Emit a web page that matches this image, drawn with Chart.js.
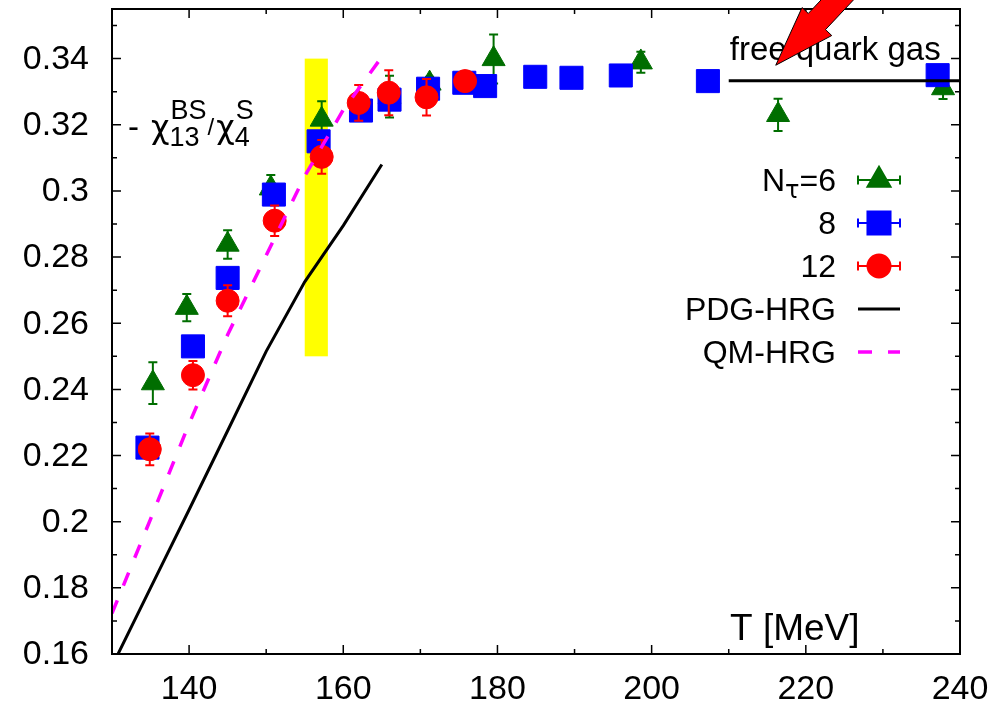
<!DOCTYPE html>
<html>
<head>
<meta charset="utf-8">
<script src="https://cdn.jsdelivr.net/npm/chart.js@4.4.0/dist/chart.umd.min.js"></script>
<style>
  body { margin: 0; background: #fff; }
  #wrap { width: 1007px; height: 710px; }
</style>
</head>
<body>
<div id="wrap"><canvas id="chart" width="1007" height="710"></canvas></div>
<script>
// lattice data, -chi13^BS / chi4^S vs T
// N_tau = 6
const T6   = [135.3, 139.7, 145.0, 150.6, 157.2, 166.0, 171.2, 179.5, 198.6, 216.4, 237.8];
const chi6 = [0.2419, 0.2647, 0.2838, 0.3008, 0.3216, 0.3285, 0.3325, 0.3399, 0.3389, 0.3230, 0.3311];
const err6 = [0.0063, 0.0041, 0.0043, 0.0040, 0.0055, 0.0063, 0.0020, 0.0074, 0.0032, 0.0049, 0.0033];
// N_tau = 8
const T8   = [134.6, 140.5, 145.0, 151.0, 156.8, 162.3, 166.0, 171.0, 175.7, 178.4, 184.9, 189.6, 196.0, 207.3, 237.1];
const chi8 = [0.2224, 0.2530, 0.2737, 0.2989, 0.3150, 0.3243, 0.3276, 0.3309, 0.3327, 0.3317, 0.3345, 0.3342, 0.3349, 0.3332, 0.3350];
const err8 = [0.0015, 0.0010, 0.0010, 0.0010, 0.0015, 0.0010, 0.0015, 0.0010, 0.0010, 0.0010, 0.0010, 0.0016, 0.0010, 0.0010, 0.0010];
// N_tau = 12
const T12   = [134.9, 140.5, 145.0, 151.1, 157.2, 162.0, 165.9, 170.8, 175.8];
const chi12 = [0.2219, 0.2443, 0.2668, 0.2910, 0.3103, 0.3266, 0.3297, 0.3283, 0.3332];
const err12 = [0.0048, 0.0043, 0.0047, 0.0046, 0.0051, 0.0054, 0.0068, 0.0055, 0.0030];
// HRG curves
const pdgT   = [130, 135, 140, 145, 150, 155, 160, 165];
const pdgChi = [0.1563, 0.1800, 0.2036, 0.2275, 0.2515, 0.2725, 0.2895, 0.3080];
const qmT    = [130, 135, 140, 145, 150, 155, 160, 165];
const qmChi  = [0.1723, 0.2008, 0.2296, 0.2565, 0.2805, 0.3045, 0.3245, 0.3405];
// free quark gas limit
const qgT   = [210, 240];
const qgChi = [1 / 3, 1 / 3];
// Tc band
const bandT   = [155, 158];
const bandChi = [0.25, 0.34];
// arrow (tip, tail)
const arrowT   = [216.1, 227.7];
const arrowChi = [0.338, 0.3667];

const xTicks = [140, 160, 180, 200, 220, 240];
const yTicks = [0.16, 0.18, 0.2, 0.22, 0.24, 0.26, 0.28, 0.3, 0.32, 0.34];
const xMinor = [150, 170, 190, 210, 230];
const yMinor = [0.17, 0.19, 0.21, 0.23, 0.25, 0.27, 0.29, 0.31, 0.33, 0.35];

const legendNames = ['N|τ|=6', '8', '12', 'PDG-HRG', 'QM-HRG'];

const GREEN = '#006e00', BLUE = '#0000ff', RED = '#ff0000', MAGENTA = '#ff00ff';
const FONT = '"Liberation Sans", Arial, Helvetica, sans-serif';
const GREEK = '"DejaVu Sans", "Noto Sans", sans-serif';

function pts(xs, ys) {
  return xs.map((x, i) => ({ x: x, y: ys[i] }));
}

function setFont(ctx, size, fam) {
  ctx.font = size + 'px ' + (fam || FONT);
}

// draws the error bars of a dataset, just before its markers
const errorBars = {
  id: 'errorBars',
  beforeDatasetDraw(chart, args) {
    const ds = chart.data.datasets[args.index];
    if (!ds.yErr) return;
    const ctx = chart.ctx, xs = chart.scales.x, ys = chart.scales.y;
    const ca = chart.chartArea;
    ctx.save();
    ctx.beginPath();
    ctx.rect(ca.left, ca.top, ca.right - ca.left, ca.bottom - ca.top);
    ctx.clip();
    ctx.strokeStyle = ds.borderColor;
    ctx.lineWidth = 2;
    ds.data.forEach((p, i) => {
      const px = xs.getPixelForValue(p.x);
      const y0 = ys.getPixelForValue(p.y - ds.yErr[i]);
      const y1 = ys.getPixelForValue(p.y + ds.yErr[i]);
      ctx.beginPath();
      ctx.moveTo(px, y0); ctx.lineTo(px, y1);
      ctx.moveTo(px - 4.5, y0); ctx.lineTo(px + 4.5, y0);
      ctx.moveTo(px - 4.5, y1); ctx.lineTo(px + 4.5, y1);
      ctx.stroke();
    });
    ctx.restore();
  }
};

const decor = {
  id: 'decor',
  beforeDatasetsDraw(chart) {
    const ctx = chart.ctx, xs = chart.scales.x, ys = chart.scales.y;
    // yellow Tc band
    const x0 = xs.getPixelForValue(bandT[0]), x1 = xs.getPixelForValue(bandT[1]);
    const y0 = ys.getPixelForValue(bandChi[0]), y1 = ys.getPixelForValue(bandChi[1]);
    ctx.save();
    ctx.fillStyle = '#ffff00';
    ctx.fillRect(x0, y1, x1 - x0, y0 - y1);
    ctx.restore();
  },
  afterDraw(chart) {
    const ctx = chart.ctx, xs = chart.scales.x, ys = chart.scales.y;
    const ca = chart.chartArea;
    ctx.save();

    // frame + inward ticks on all sides
    ctx.strokeStyle = '#000';
    ctx.lineWidth = 1.5;
    ctx.beginPath();
    xTicks.concat(xMinor).forEach(v => {
      const len = xTicks.includes(v) ? 9 : 5;
      const px = xs.getPixelForValue(v);
      ctx.moveTo(px, ca.bottom); ctx.lineTo(px, ca.bottom - len);
      ctx.moveTo(px, ca.top); ctx.lineTo(px, ca.top + len);
    });
    yTicks.concat(yMinor).forEach(v => {
      const len = yTicks.includes(v) ? 9 : 5;
      const py = ys.getPixelForValue(v);
      ctx.moveTo(ca.left, py); ctx.lineTo(ca.left + len, py);
      ctx.moveTo(ca.right, py); ctx.lineTo(ca.right - len, py);
    });
    ctx.stroke();
    ctx.lineWidth = 2;
    ctx.strokeRect(ca.left, ca.top, ca.right - ca.left, ca.bottom - ca.top);

    // y tick labels
    ctx.fillStyle = '#000';
    setFont(ctx, 34);
    ctx.textAlign = 'right';
    ctx.textBaseline = 'middle';
    yTicks.forEach(v => {
      ctx.fillText(String(+v.toFixed(2)), ca.left - 23, ys.getPixelForValue(v) + 1);
    });

    ctx.textAlign = 'left';
    ctx.textBaseline = 'alphabetic';

    // y label:  - chi_13^BS / chi_4^S
    let cx = ca.left + 16;
    const base = ca.top + 129;
    setFont(ctx, 33);
    ctx.fillText('-', cx, base);
    cx += 23;
    setFont(ctx, 32, GREEK);
    ctx.fillText('χ', cx, base);
    cx += ctx.measureText('χ').width;
    setFont(ctx, 27);
    ctx.fillText('13', cx, base + 8);
    ctx.fillText('BS', cx + 1, base - 19);
    cx += Math.max(ctx.measureText('13').width, ctx.measureText('BS').width + 1) + 1;
    setFont(ctx, 24);
    ctx.fillText('/', cx, base - 3);
    cx += ctx.measureText('/').width + 2;
    setFont(ctx, 32, GREEK);
    ctx.fillText('χ', cx, base);
    cx += ctx.measureText('χ').width;
    setFont(ctx, 27);
    ctx.fillText('4', cx, base + 8);
    ctx.fillText('S', cx + 1, base - 19);

    // free quark gas
    setFont(ctx, 33);
    ctx.fillText('free quark gas', xs.getPixelForValue(qgT[0]) + 1, ca.top + 51);

    // x label
    setFont(ctx, 37);
    ctx.fillText('T [MeV]', ca.left + 618, ca.bottom - 14);

    // legend
    const tx = ca.right - 124, s0 = ca.right - 102, s1 = ca.right - 60, sm = (s0 + s1) / 2;
    const styles = [
      { c: GREEN, m: 'triangle', r: 13.3 },
      { c: BLUE, m: 'rect', r: 16.3 },
      { c: RED, m: 'circle', r: 11.5 },
      { c: '#000', line: [] },
      { c: MAGENTA, line: [14, 16] }
    ];
    legendNames.forEach((name, i) => {
      const ry = ca.top + 171 + 43 * i;
      const parts = name.split('|');
      ctx.fillStyle = '#000';
      if (parts.length === 3) {
        setFont(ctx, 32);
        const w0 = ctx.measureText(parts[0]).width, w2 = ctx.measureText(parts[2]).width;
        setFont(ctx, 24, GREEK);
        const w1 = ctx.measureText(parts[1]).width;
        let lx = tx - (w0 + w1 + w2);
        setFont(ctx, 32);
        ctx.fillText(parts[0], lx, ry + 11);
        setFont(ctx, 24, GREEK);
        ctx.fillText(parts[1], lx + w0, ry + 18);
        setFont(ctx, 32);
        ctx.fillText(parts[2], lx + w0 + w1, ry + 11);
      } else {
        setFont(ctx, 32);
        ctx.textAlign = 'right';
        ctx.fillText(name, tx, ry + 11);
        ctx.textAlign = 'left';
      }
      const st = styles[i];
      ctx.strokeStyle = st.c;
      ctx.fillStyle = st.c;
      if (st.line) {
        ctx.lineWidth = st.c === '#000' ? 3 : 3.5;
        ctx.setLineDash(st.line);
        ctx.beginPath();
        ctx.moveTo(s0, ry); ctx.lineTo(s1, ry);
        ctx.stroke();
        ctx.setLineDash([]);
      } else {
        ctx.lineWidth = 2;
        ctx.beginPath();
        ctx.moveTo(s0, ry); ctx.lineTo(s1, ry);
        ctx.moveTo(s0, ry - 4.5); ctx.lineTo(s0, ry + 4.5);
        ctx.moveTo(s1, ry - 4.5); ctx.lineTo(s1, ry + 4.5);
        ctx.stroke();
        Chart.helpers.drawPoint(ctx, { pointStyle: st.m, radius: st.r, borderWidth: 1, rotation: 0 }, sm, ry);
        ctx.fill();
      }
    });

    // red arrow pointing at the free quark gas line
    const tipX = xs.getPixelForValue(arrowT[0]), tipY = ys.getPixelForValue(arrowChi[0]);
    const tailX = xs.getPixelForValue(arrowT[1]), tailY = ys.getPixelForValue(arrowChi[1]);
    const len = Math.hypot(tailX - tipX, tailY - tipY);
    const ux = (tailX - tipX) / len, uy = (tailY - tipY) / len;
    const nx = -uy, ny = ux;
    const hl = 60, hw = 20.4, sw = 11.8;
    const bx = tipX + ux * hl, by = tipY + uy * hl;
    ctx.beginPath();
    ctx.moveTo(tipX, tipY);
    ctx.lineTo(bx + nx * hw, by + ny * hw);
    ctx.lineTo(bx + nx * sw, by + ny * sw);
    ctx.lineTo(tailX + nx * sw, tailY + ny * sw);
    ctx.lineTo(tailX - nx * sw, tailY - ny * sw);
    ctx.lineTo(bx - nx * sw, by - ny * sw);
    ctx.lineTo(bx - nx * hw, by - ny * hw);
    ctx.closePath();
    ctx.fillStyle = RED;
    ctx.fill();
    ctx.strokeStyle = '#000';
    ctx.lineWidth = 1;
    ctx.stroke();

    ctx.restore();
  }
};

const ctx = document.getElementById('chart').getContext('2d');
const chart = new Chart(ctx, {
  type: 'scatter',
  data: {
    datasets: [
      { label: 'PDG-HRG', data: pts(pdgT, pdgChi), showLine: true, borderColor: '#000', borderWidth: 3,
        pointRadius: 0, order: 0 },
      { label: 'QM-HRG', data: pts(qmT, qmChi), showLine: true, borderColor: MAGENTA, borderWidth: 3.5,
        borderDash: [14, 16], pointRadius: 0, order: 0 },
      { label: 'free quark gas', data: pts(qgT, qgChi), showLine: true, borderColor: '#000', borderWidth: 3,
        pointRadius: 0, order: 0 },
      { label: '12', data: pts(T12, chi12), yErr: err12, pointStyle: 'circle', pointRadius: 11.5,
        backgroundColor: RED, borderColor: RED, borderWidth: 1, order: 1 },
      { label: '8', data: pts(T8, chi8), yErr: err8, pointStyle: 'rect', pointRadius: 16.3,
        backgroundColor: BLUE, borderColor: BLUE, borderWidth: 1, order: 2 },
      { label: 'N_tau=6', data: pts(T6, chi6), yErr: err6, pointStyle: 'triangle', pointRadius: 13.3,
        backgroundColor: GREEN, borderColor: GREEN, borderWidth: 1, order: 3 }
    ]
  },
  options: {
    responsive: false,
    animation: false,
    events: [],
    layout: { autoPadding: false, padding: { top: 9, right: 47, left: 0, bottom: 0 } },
    plugins: { legend: { display: false }, tooltip: { enabled: false } },
    scales: {
      x: {
        type: 'linear', min: 130, max: 240,
        afterBuildTicks: s => { s.ticks = xTicks.map(v => ({ value: v })); },
        afterFit: s => { s.height = 56; s.paddingLeft = 0; s.paddingRight = 0; },
        grid: { display: false, drawTicks: false },
        border: { display: false },
        ticks: { color: '#000', font: { size: 34, family: FONT }, padding: 15, maxRotation: 0, autoSkip: false }
      },
      y: {
        type: 'linear', min: 0.16, max: 0.355,
        afterBuildTicks: s => { s.ticks = yTicks.map(v => ({ value: v })); },
        afterFit: s => { s.width = 112; },
        grid: { display: false, drawTicks: false },
        border: { display: false },
        ticks: { display: false }
      }
    }
  },
  plugins: [errorBars, decor]
});
</script>
</body>
</html>
